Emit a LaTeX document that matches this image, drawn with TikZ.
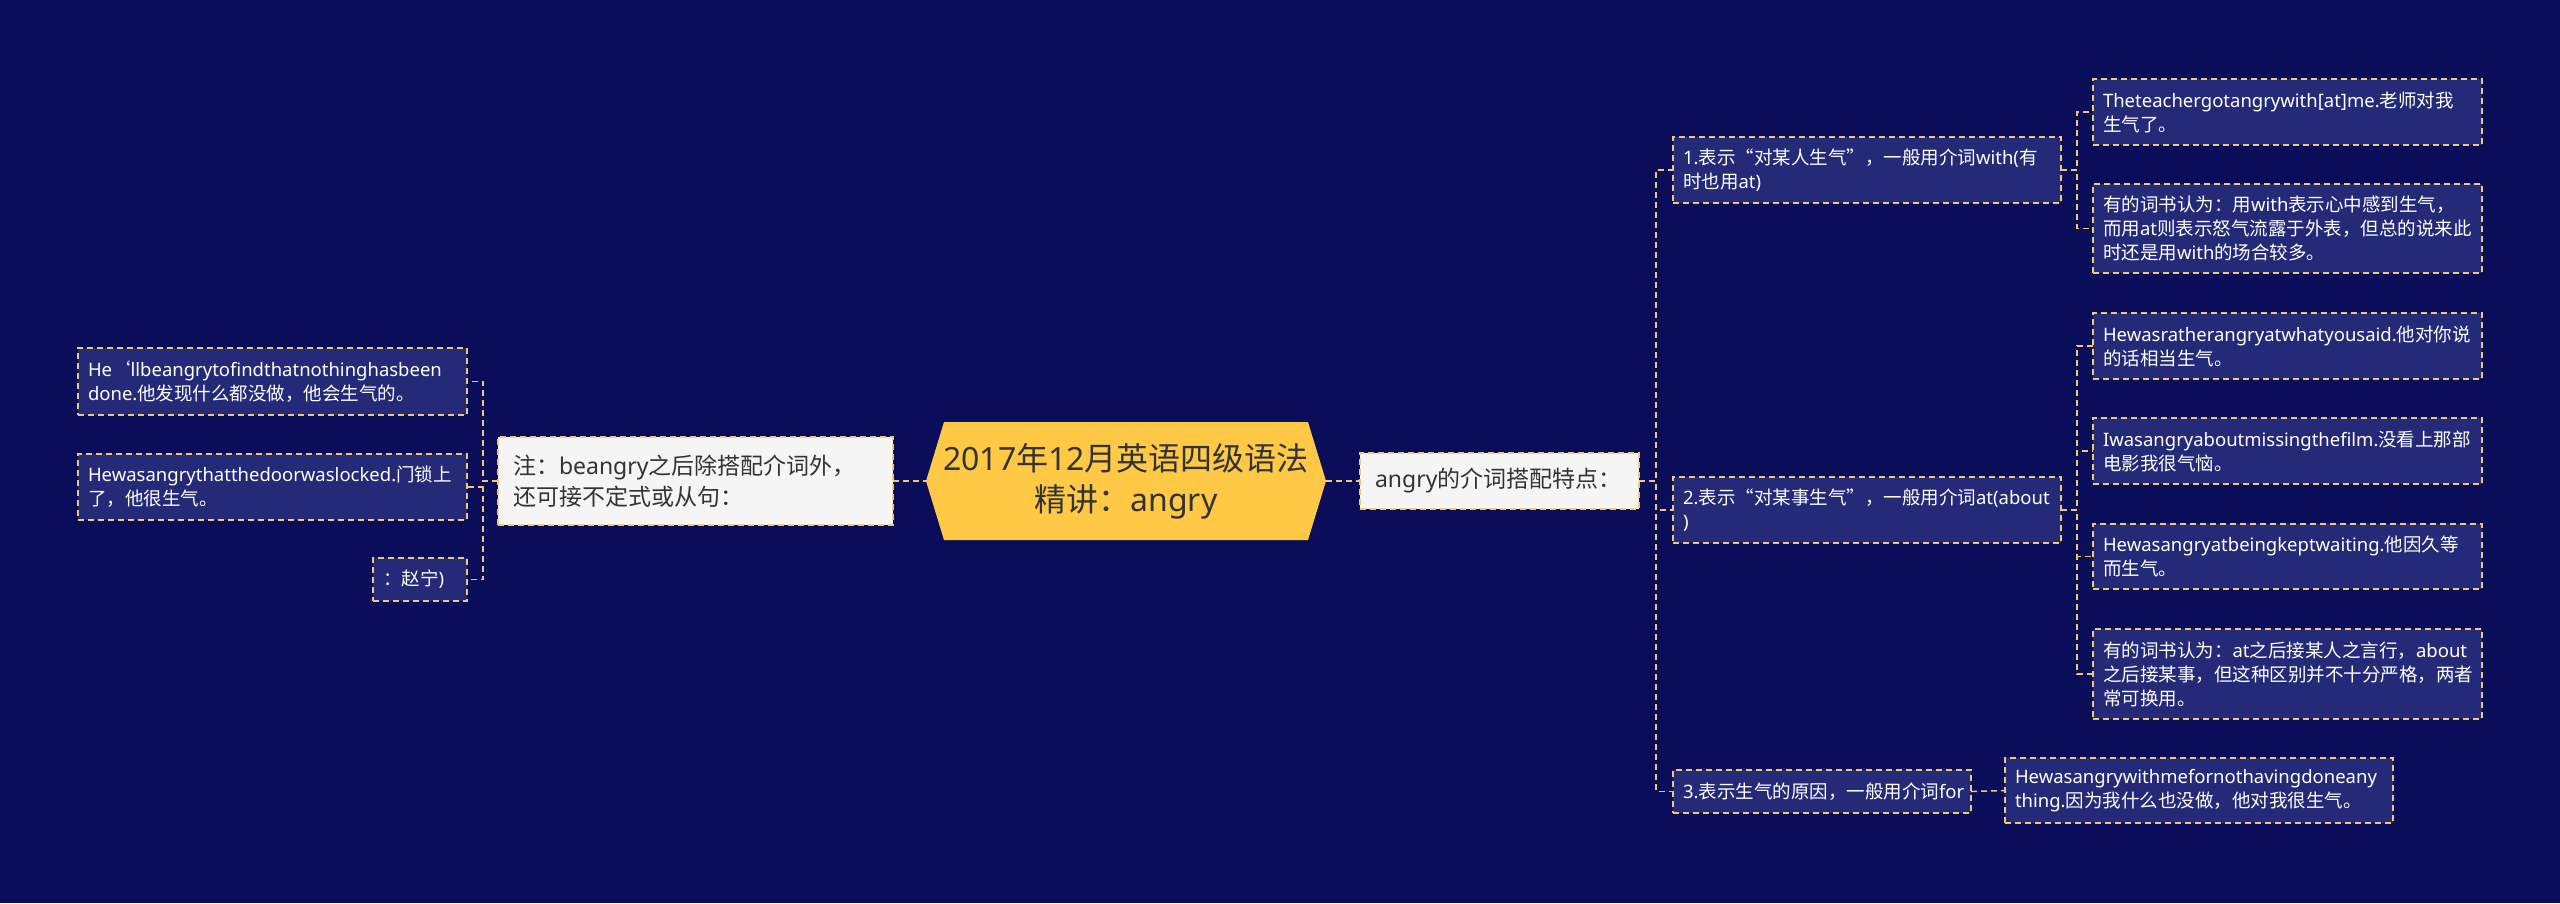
\documentclass[tikz,border=0pt]{standalone}
\usepackage{fontspec}
\setmainfont{Noto Sans}
\newfontfamily\cjkf{Noto Sans CJK SC}
\newfontfamily\latf{Noto Sans}
\XeTeXinterchartokenstate=1
\newXeTeXintercharclass\CJKcls
\newcount\cjkcnt
\newcommand\setcjkrange[2]{\cjkcnt=#1\relax
  \loop\XeTeXcharclass\cjkcnt=\CJKcls\relax
  \ifnum\cjkcnt<#2\relax\advance\cjkcnt by 1\relax\repeat}
\setcjkrange{"4E00}{"9FFF}
\setcjkrange{"3000}{"303F}
\setcjkrange{"FF00}{"FFEF}
\setcjkrange{"2018}{"201D}
\XeTeXinterchartoks 0 \CJKcls = {\cjkf}
\XeTeXinterchartoks 4095 \CJKcls = {\cjkf}
\XeTeXinterchartoks \CJKcls 0 = {\latf}
\XeTeXinterchartoks 4095 0 = {\latf}
\usetikzlibrary{backgrounds}
\definecolor{bgc}{HTML}{0A0E5A}
\definecolor{leaffill}{HTML}{252A78}
\definecolor{bordc}{HTML}{F2C86E}
\definecolor{hexc}{HTML}{FFC945}
\definecolor{lightfill}{HTML}{F5F5F5}
\definecolor{darktext}{HTML}{333333}
\begin{document}
\begin{tikzpicture}[x=1pt,y=-1pt,
  every node/.style={inner sep=0pt, outer sep=0pt},
  leaf/.style={draw=bordc, fill=leaffill, dash pattern=on 6pt off 4pt, line width=1.5pt,
    text=white, font=\fontsize{18.5}{24}\selectfont, align=left, anchor=north west, inner xsep=10pt},
  topbox/.style={draw=bordc, fill=lightfill, dash pattern=on 6pt off 4pt, line width=1.5pt,
    text=darktext, font=\fontsize{23}{31}\selectfont, align=left, anchor=north west, inner xsep=15pt},
  conn/.style={draw=bordc, line width=1.5pt, dash pattern=on 6pt off 4pt}
]
\useasboundingbox (0,0) rectangle (2560,903);
\begin{scope}[on background layer]
\fill[bgc] (0,0) rectangle (2560,903);
\end{scope}

% center
\node[minimum width=400pt, minimum height=118pt, align=center, text=darktext,
  font=\fontsize{32}{41}\selectfont] (C) at (1126,481) {2017年12月英语四级语法\\精讲：angry};
\begin{scope}[on background layer]
\fill[hexc] ([xshift=18pt]C.north west) -- (C.west) -- ([xshift=18pt]C.south west)
  -- ([xshift=-18pt]C.south east) -- (C.east) -- ([xshift=-18pt]C.north east) -- cycle;
\end{scope}

% left side
\node[topbox, minimum width=395pt, minimum height=88pt, text width=365pt] (zhu) at (498,437)
  {注：beangry之后除搭配介词外，\\还可接不定式或从句：};
\node[leaf, minimum width=389pt, minimum height=67pt, text width=369pt] (L1) at (78,348)
  {He‘llbeangrytofindthatnothinghasbeen\\done.他发现什么都没做，他会生气的。};
\node[leaf, minimum width=389pt, minimum height=66pt, text width=369pt] (L2) at (78,454)
  {Hewasangrythatthedoorwaslocked.门锁上\\了，他很生气。};
\node[leaf, minimum width=94pt, minimum height=43pt, text width=74pt] (L3) at (373,558)
  {：赵宁)};

% right side
\node[topbox, minimum width=279pt, minimum height=56pt, text width=249pt] (angry) at (1360,453)
  {angry的介词搭配特点：};

\node[leaf, minimum width=388pt, minimum height=66pt, text width=368pt] (R1) at (1673,137)
  {1.表示“对某人生气”，一般用介词with(有\\时也用at)};
\node[leaf, minimum width=389pt, minimum height=66pt, text width=369pt] (R1a) at (2093,79)
  {Theteachergotangrywith[at]me.老师对我\\生气了。};
\node[leaf, minimum width=389pt, minimum height=89pt, text width=369pt] (R1b) at (2093,184)
  {有的词书认为：用with表示心中感到生气，\\而用at则表示怒气流露于外表，但总的说来此\\时还是用with的场合较多。};

\node[leaf, minimum width=388pt, minimum height=66pt, text width=368pt] (R2) at (1673,477)
  {2.表示“对某事生气”，一般用介词at(about\\)};
\node[leaf, minimum width=389pt, minimum height=66pt, text width=369pt] (R2a) at (2093,313)
  {Hewasratherangryatwhatyousaid.他对你说\\的话相当生气。};
\node[leaf, minimum width=389pt, minimum height=66pt, text width=369pt] (R2b) at (2093,418)
  {Iwasangryaboutmissingthefilm.没看上那部\\电影我很气恼。};
\node[leaf, minimum width=389pt, minimum height=65pt, text width=369pt] (R2c) at (2093,524)
  {Hewasangryatbeingkeptwaiting.他因久等\\而生气。};
\node[leaf, minimum width=389pt, minimum height=90pt, text width=369pt] (R2d) at (2093,629)
  {有的词书认为：at之后接某人之言行，about\\之后接某事，但这种区别并不十分严格，两者\\常可换用。};

\node[leaf, minimum width=298pt, minimum height=43pt, text width=278pt] (R3) at (1673,770)
  {3.表示生气的原因，一般用介词for};
\node[leaf, minimum width=388pt, minimum height=65pt, text width=368pt] (R3a) at (2005,758)
  {Hewasangrywithmefornothavingdoneany\\thing.因为我什么也没做，他对我很生气。};

% connectors
\draw[conn] (zhu.east) -- (C.west);
\draw[conn] (C.east) -- (angry.west);
\draw[conn] (zhu.west) -- ++(-15,0) |- (L1.east);
\draw[conn] (zhu.west) -- ++(-15,0) |- (L2.east);
\draw[conn] (zhu.west) -- ++(-15,0) |- (L3.east);

\draw[conn] (angry.east) -- ++(17,0) |- (R1.west);
\draw[conn] (angry.east) -- ++(17,0) |- (R2.west);
\draw[conn] (angry.east) -- ++(17,0) |- (R3.west);

\draw[conn] (R1.east) -- ++(16,0) |- (R1a.west);
\draw[conn] (R1.east) -- ++(16,0) |- (R1b.west);
\draw[conn] (R2.east) -- ++(16,0) |- (R2a.west);
\draw[conn] (R2.east) -- ++(16,0) |- (R2b.west);
\draw[conn] (R2.east) -- ++(16,0) |- (R2c.west);
\draw[conn] (R2.east) -- ++(16,0) |- (R2d.west);
\draw[conn] (R3.east) -- (R3a.west);
\end{tikzpicture}
\end{document}
